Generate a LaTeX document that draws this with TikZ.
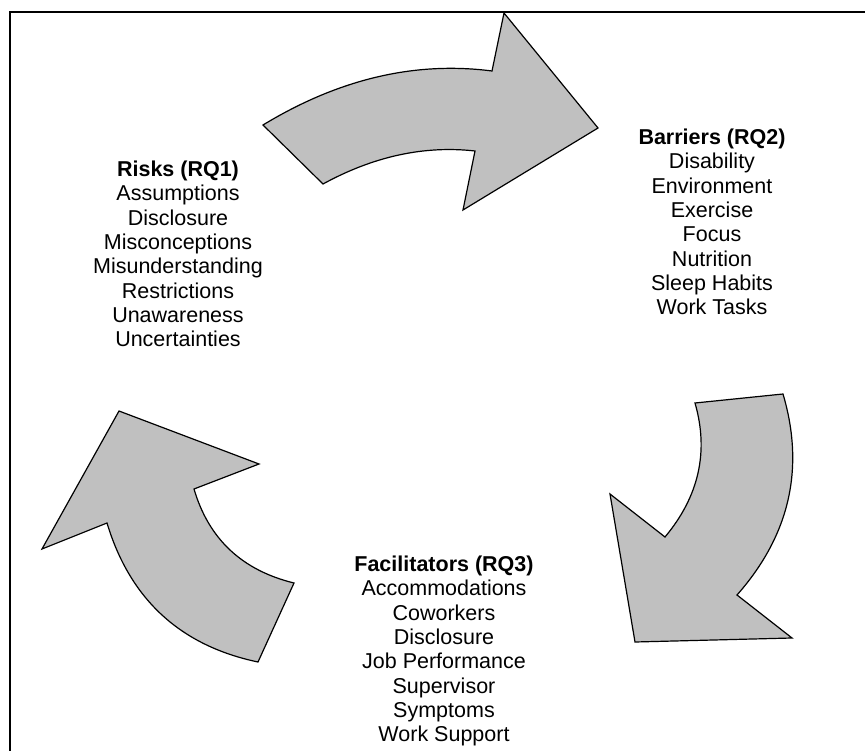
\documentclass[tikz,border=0pt]{standalone}
\usepackage{fontspec}
\setmainfont{Liberation Sans}
\usepackage{xcolor}

\definecolor{arrowgray}{RGB}{192,192,192}

\tikzset{
  cyclearrow/.style={fill=arrowgray, draw=black, line width=1.2pt, line join=miter},
  group/.style={align=center, inner sep=0pt, font=\fontsize{21.5}{24.3}\selectfont}
}

\begin{document}
\begin{tikzpicture}[x=1pt, y=-1pt]
  % Fix the page size
  \useasboundingbox (0,0) rectangle (865,751);

  % Draw the frame (cut off at right and bottom)
  \draw[line width=1.6pt] (10,751) -- (10,12) -- (865,12);

  % Top arrow
  \draw[cyclearrow] (263,125) .. controls (338.7,79) and (415,61) .. (492,71)
    -- (504,13) -- (598,128) -- (463,210) -- (475,151)
    .. controls (424.3,145.3) and (373.7,156.3) .. (323,184) -- cycle;

  % Right arrow
  \draw[cyclearrow] (783,394) .. controls (805,468.3) and (789.7,535.3) .. (737,595)
    -- (792,638) -- (635,642) -- (610,494) -- (665,537)
    .. controls (699,496.3) and (709,451.7) .. (695,403) -- cycle;

  % Left arrow
  \draw[cyclearrow] (258,662) .. controls (180.3,645.7) and (130,599.3) .. (107,523)
    -- (42,549) -- (119,411) -- (259,464) -- (194,489)
    .. controls (208.7,539) and (242,570.3) .. (294,583) -- cycle;

  % Text groups
  \node[group] (risks) at (178,254) {\textbf{Risks (RQ1)}\\ Assumptions\\ Disclosure\\ Misconceptions\\
    Misunderstanding\\ Restrictions\\ Unawareness\\ Uncertainties};
  \node[group] (barriers) at (712,222) {\textbf{Barriers (RQ2)}\\ Disability\\ Environment\\ Exercise\\
    Focus\\ Nutrition\\ Sleep Habits\\ Work Tasks};
  \node[group] (facilitators) at (444,651) {\textbf{Facilitators (RQ3)}\\ Accommodations\\ Coworkers\\ Disclosure\\
    Job Performance\\ Supervisor\\ Symptoms\\ Work Support};
\end{tikzpicture}
\end{document}
